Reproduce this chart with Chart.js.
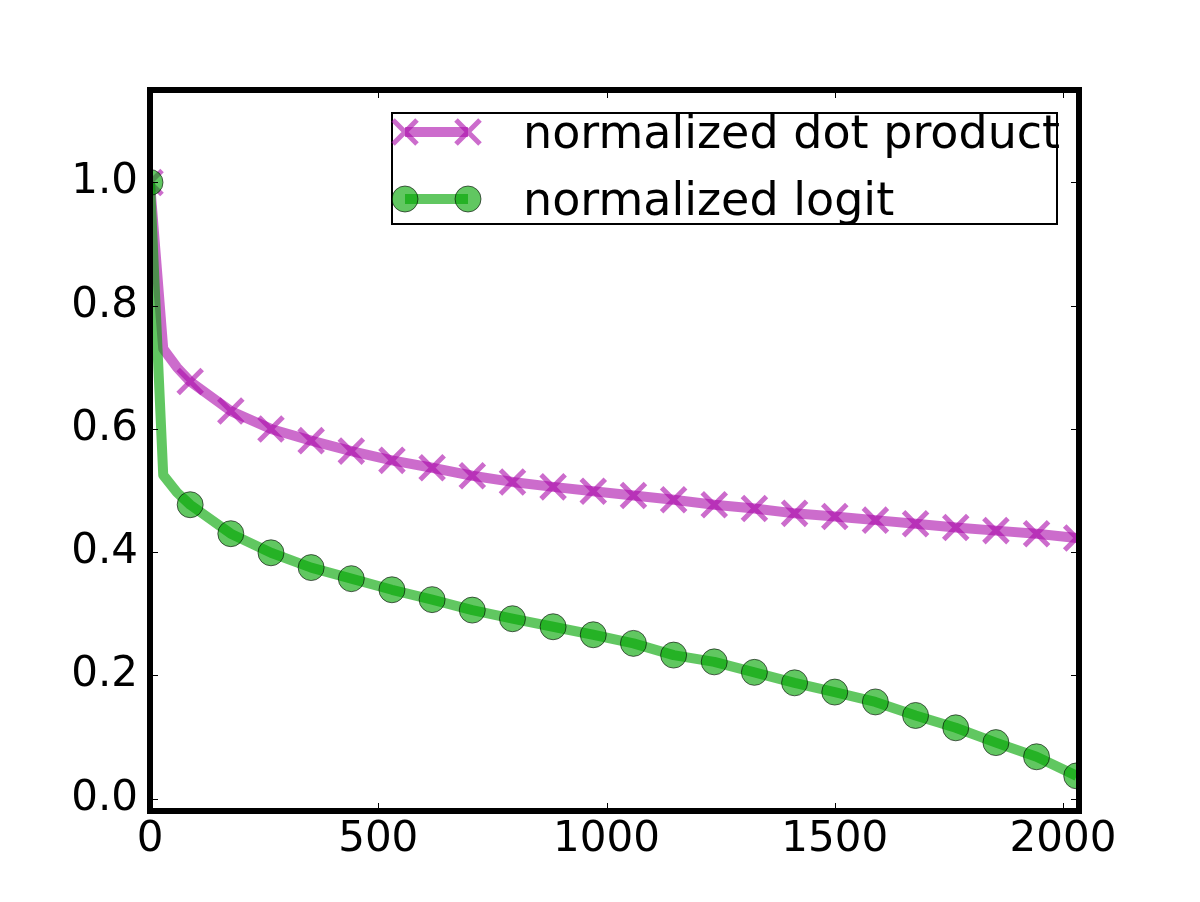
<!DOCTYPE html>
<html>
<head>
<meta charset="utf-8">
<script src="https://cdn.jsdelivr.net/npm/chart.js@4/dist/chart.umd.min.js"></script>
<style>
  html, body { margin: 0; padding: 0; background: #fff; }
  #wrap { width: 1200px; height: 902px; }
</style>
</head>
<body>
<div id="wrap"><canvas id="plot" width="1200" height="902"></canvas></div>
<script>
// x positions of the markers
const markX = [0, 88, 177, 265, 353, 441, 530, 618, 706, 794, 883, 971, 1059, 1147, 1236, 1324, 1412, 1500, 1589, 1677, 1765, 1853, 1942, 2030];
const dotY = [1.0, 0.677, 0.629, 0.600, 0.581, 0.564, 0.549, 0.537, 0.524, 0.514, 0.506, 0.499, 0.492, 0.485, 0.477, 0.471, 0.463, 0.458, 0.452, 0.446, 0.440, 0.435, 0.430, 0.423];
const logitY = [1.0, 0.477, 0.430, 0.399, 0.375, 0.357, 0.339, 0.323, 0.306, 0.292, 0.279, 0.266, 0.252, 0.233, 0.222, 0.205, 0.188, 0.173, 0.157, 0.135, 0.115, 0.091, 0.068, 0.037];
// extra line points near the start (no markers there)
const earlyX = [29, 59];
const dotEarly = [0.730, 0.700];
const logitEarly = [0.525, 0.497];

const xTicks = [0, 500, 1000, 1500, 2000];
const yTicks = [0.0, 0.2, 0.4, 0.6, 0.8, 1.0];
const labels = ['normalized dot product', 'normalized logit'];

const purple = 'rgba(170,10,170,0.6)';
const green = 'rgba(0,165,0,0.62)';
const font = 'DejaVu Sans';

function linePts(ys, early) {
    const pts = [{ x: markX[0], y: ys[0] }];
    earlyX.forEach((x, i) => pts.push({ x: x, y: early[i] }));
    for (let i = 1; i < markX.length; i++) pts.push({ x: markX[i], y: ys[i] });
    return pts;
}
function markPts(ys) {
    return markX.map((x, i) => ({ x: x, y: ys[i] }));
}

// frame, inside ticks and the legend box
const framePlugin = {
    id: 'frame',
    afterDraw(chart) {
        const ctx = chart.ctx;
        const a = chart.chartArea;
        const xs = chart.scales.x, ys = chart.scales.y;
        ctx.save();
        ctx.strokeStyle = '#000';
        ctx.lineWidth = 1;
        ctx.beginPath();
        xTicks.forEach(v => {
            const px = Math.round(xs.getPixelForValue(v)) + 0.5;
            ctx.moveTo(px, a.bottom); ctx.lineTo(px, a.bottom - 8);
            ctx.moveTo(px, a.top); ctx.lineTo(px, a.top + 8);
        });
        yTicks.forEach(v => {
            const py = Math.round(ys.getPixelForValue(v)) + 0.5;
            ctx.moveTo(a.left, py); ctx.lineTo(a.left + 8, py);
            ctx.moveTo(a.right, py); ctx.lineTo(a.right - 8, py);
        });
        ctx.stroke();
        ctx.lineWidth = 6;
        ctx.strokeRect(a.left, a.top, a.right - a.left, a.bottom - a.top);

        // legend
        ctx.fillStyle = '#fff';
        ctx.fillRect(392, 113, 665, 111);
        ctx.lineWidth = 2;
        ctx.strokeStyle = '#000';
        ctx.strokeRect(392, 113, 665, 111);
        const rows = [132, 199];
        rows.forEach((ry, i) => {
            const col = i === 0 ? purple : green;
            ctx.strokeStyle = col;
            ctx.lineWidth = 10;
            ctx.beginPath();
            ctx.moveTo(405, ry); ctx.lineTo(468, ry);
            ctx.stroke();
            [405, 468].forEach(mx => {
                if (i === 0) {
                    const d = 12;
                    ctx.lineWidth = 5;
                    ctx.strokeStyle = col;
                    ctx.beginPath();
                    ctx.moveTo(mx - d, ry - d); ctx.lineTo(mx + d, ry + d);
                    ctx.moveTo(mx - d, ry + d); ctx.lineTo(mx + d, ry - d);
                    ctx.stroke();
                } else {
                    ctx.fillStyle = col;
                    ctx.strokeStyle = 'rgba(0,0,0,0.6)';
                    ctx.lineWidth = 1;
                    ctx.beginPath();
                    ctx.arc(mx, ry, 13, 0, Math.PI * 2);
                    ctx.fill();
                    ctx.stroke();
                }
            });
            ctx.fillStyle = '#000';
            ctx.font = '46px "' + font + '"';
            ctx.textAlign = 'left';
            ctx.textBaseline = 'alphabetic';
            ctx.fillText(labels[i], 523, ry + 16);
        });
        ctx.restore();
    }
};

new Chart(document.getElementById('plot'), {
    type: 'scatter',
    data: {
        datasets: [
            { label: labels[0], data: linePts(dotY, dotEarly), showLine: true, borderColor: purple, borderWidth: 10, borderJoinStyle: 'round', pointRadius: 0, order: 4 },
            { label: labels[0], data: markPts(dotY), showLine: false, pointStyle: 'crossRot', pointRadius: 17, borderColor: purple, borderWidth: 5, order: 3 },
            { label: labels[1], data: linePts(logitY, logitEarly), showLine: true, borderColor: green, borderWidth: 10, borderJoinStyle: 'round', pointRadius: 0, order: 2 },
            { label: labels[1], data: markPts(logitY), showLine: false, pointStyle: 'circle', pointRadius: 13, backgroundColor: green, borderColor: 'rgba(0,0,0,0.6)', borderWidth: 1, order: 1 }
        ]
    },
    options: {
        responsive: false,
        animation: false,
        events: [],
        layout: { padding: { top: 90, right: 121, left: 0, bottom: 0 } },
        plugins: { legend: { display: false }, tooltip: { enabled: false } },
        scales: {
            x: {
                type: 'linear', min: 0, max: 2035,
                grid: { display: false, drawTicks: false },
                border: { display: false },
                afterBuildTicks: s => { s.ticks = xTicks.map(v => ({ value: v })); },
                afterFit: s => { s.height = 91; },
                ticks: { color: '#000', padding: 4, maxRotation: 0, font: { family: font, size: 42 }, callback: v => String(v) }
            },
            y: {
                min: -0.02, max: 1.15,
                grid: { display: false, drawTicks: false },
                border: { display: false },
                afterBuildTicks: s => { s.ticks = yTicks.map(v => ({ value: v })); },
                afterFit: s => { s.width = 150; },
                ticks: { color: '#000', padding: 12, font: { family: font, size: 42 }, callback: v => v.toFixed(1) }
            }
        }
    },
    plugins: [framePlugin]
});
</script>
</body>
</html>
